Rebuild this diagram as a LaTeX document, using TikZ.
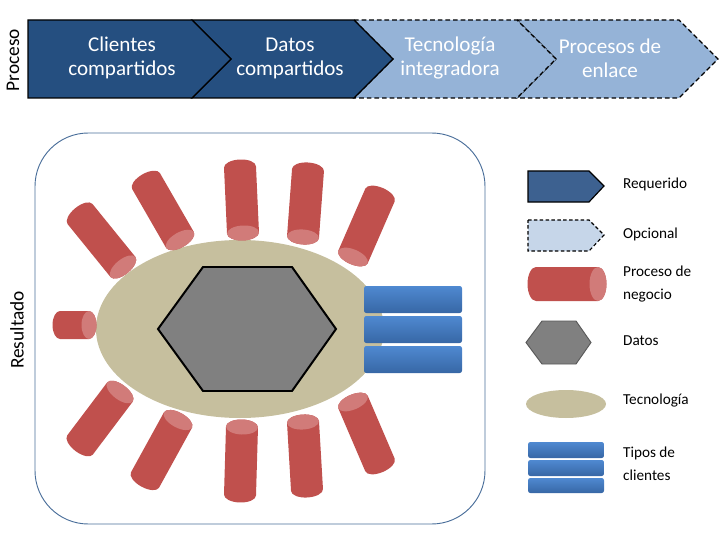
\documentclass[tikz,border=0pt]{standalone}
\usepackage{fontspec}
\setmainfont{Carlito}
\usepackage{tikz}

\definecolor{reqblue}{HTML}{254F80}
\definecolor{optblue}{HTML}{95B3D7}
\definecolor{legreq}{HTML}{3D6190}
\definecolor{legopt}{HTML}{C6D6E9}
\definecolor{procred}{HTML}{C0504D}
\definecolor{proccap}{HTML}{D17B79}
\definecolor{techtan}{HTML}{C6BF9E}
\definecolor{datagray}{HTML}{808080}
\definecolor{frameblue}{HTML}{4A6E9A}
\definecolor{bartop}{HTML}{4F89D1}
\definecolor{barbot}{HTML}{3767A5}

% pipe from outer end (#1,#2) to capped end (#3,#4), radius #5, cap depth #6
\newcommand{\cilindro}[6]{%
  \pgfmathsetmacro{\cang}{atan2(#2-#4,#3-#1)}%
  \pgfmathsetmacro{\clen}{veclen(#3-#1,#4-#2)}%
  \begin{scope}[shift={(#1,#2)}, rotate=\cang]
    \fill[procred] (0,-#5) arc[start angle=270, end angle=90, x radius=#6, y radius=#5]
      -- (\clen,#5) arc[start angle=90, end angle=-90, x radius=#6, y radius=#5] -- cycle;
    \fill[proccap] (\clen,0) ellipse[x radius=#6, y radius=#5];
  \end{scope}}

\begin{document}
\begin{tikzpicture}[x=0.03cm, y=-0.03cm,
  reqd/.style={fill=reqblue, draw=black, line width=1.1pt},
  opcl/.style={fill=optblue, draw=black, line width=1.1pt, dash pattern=on 4pt off 2.5pt},
  lbl/.style={text=white, align=center, font=\fontsize{18}{20.5}\selectfont},
  side/.style={rotate=90, font=\fontsize{16.5}{18}\selectfont},
  leg/.style={anchor=west, align=left, font=\fontsize{13}{19.5}\selectfont},
  tipo/.style={top color=bartop, bottom color=barbot, rounded corners=2pt}]
  \useasboundingbox (0,0) rectangle (726,538);

  % process bar
  \draw[opcl] (517,20) -- (679,20) -- (718,59) -- (679,98) -- (517,98) -- (556,59) -- cycle;
  \draw[opcl] (354,20) -- (517,20) -- (556,59) -- (517,98) -- (354,98) -- (393,59) -- cycle;
  \draw[reqd] (192,20) -- (354,20) -- (393,59) -- (354,98) -- (192,98) -- (231,59) -- cycle;
  \draw[reqd] (28,20) -- (192,20) -- (231,59) -- (192,98) -- (28,98) -- cycle;
  \node[lbl] (c1) at (122,58) {Clientes\\compartidos};
  \node[lbl] (c2) at (290,58) {Datos\\compartidos};
  \node[lbl] (c3) at (450,58) {Tecnología\\integradora};
  \node[lbl] (c4) at (610,58) {Procesos de\\enlace};
  \node[side] (proceso) at (13,60) {Proceso};

  % result
  \draw[frameblue, line width=0.8pt, rounded corners=1.6cm] (35,133) rectangle (485,524);
  \node[side] (resultado) at (17,330) {Resultado};
  \fill[techtan] (240,329) ellipse[x radius=144, y radius=89];
  \foreach \ax/\ay/\bx/\by/\r in {80/214/123/267/16, 146/181/180/240/16, 240/167/243/233/16,
      308/170/303/237/16, 380/195/353/257/16, 60/325/89/325/14, 80/445/120/392/16,
      145/480/178/420/16, 240/495/242/427/16, 307/490/303/422/16, 380/465/353/402/16}
    {\cilindro{\ax}{\ay}{\bx}{\by}{\r}{7.5}}
  \draw[fill=datagray, line width=1.7pt, line join=miter]
    (203,267) -- (292,267) -- (336,329) -- (292,391) -- (203,391) -- (158,329) -- cycle;
  \shade[tipo] (364,286) rectangle (462,313);
  \shade[tipo] (364,316) rectangle (462,343);
  \shade[tipo] (364,346) rectangle (462,373);

  % legend
  \draw[fill=legreq, line width=1pt] (528,171) -- (589,171) -- (604,186) -- (589,202) -- (528,202) -- cycle;
  \node[leg] (requerido) at (619,184) {Requerido};
  \draw[fill=legopt, line width=1pt, dash pattern=on 3pt off 2pt]
    (528,220) -- (589,220) -- (604,235) -- (589,251) -- (528,251) -- cycle;
  \node[leg] (opcional) at (619,234) {Opcional};
  \cilindro{536}{284}{598}{284}{17}{8.5}
  \node[leg] (negocio) at (619,284) {Proceso de\\negocio};
  \draw[fill=datagray, draw=black!65, line width=0.8pt]
    (542,321) -- (576,321) -- (591,342.5) -- (576,364) -- (542,364) -- (526,342.5) -- cycle;
  \node[leg] (datos) at (619,341) {Datos};
  \fill[techtan] (566,404) ellipse[x radius=40, y radius=14];
  \node[leg] (tecnologia) at (619,401) {Tecnología};
  \shade[tipo] (528,442) rectangle (604,458);
  \shade[tipo] (528,460) rectangle (604,476);
  \shade[tipo] (528,478) rectangle (604,493);
  \node[leg] (tipos) at (619,464) {Tipos de\\clientes};
\end{tikzpicture}
\end{document}
